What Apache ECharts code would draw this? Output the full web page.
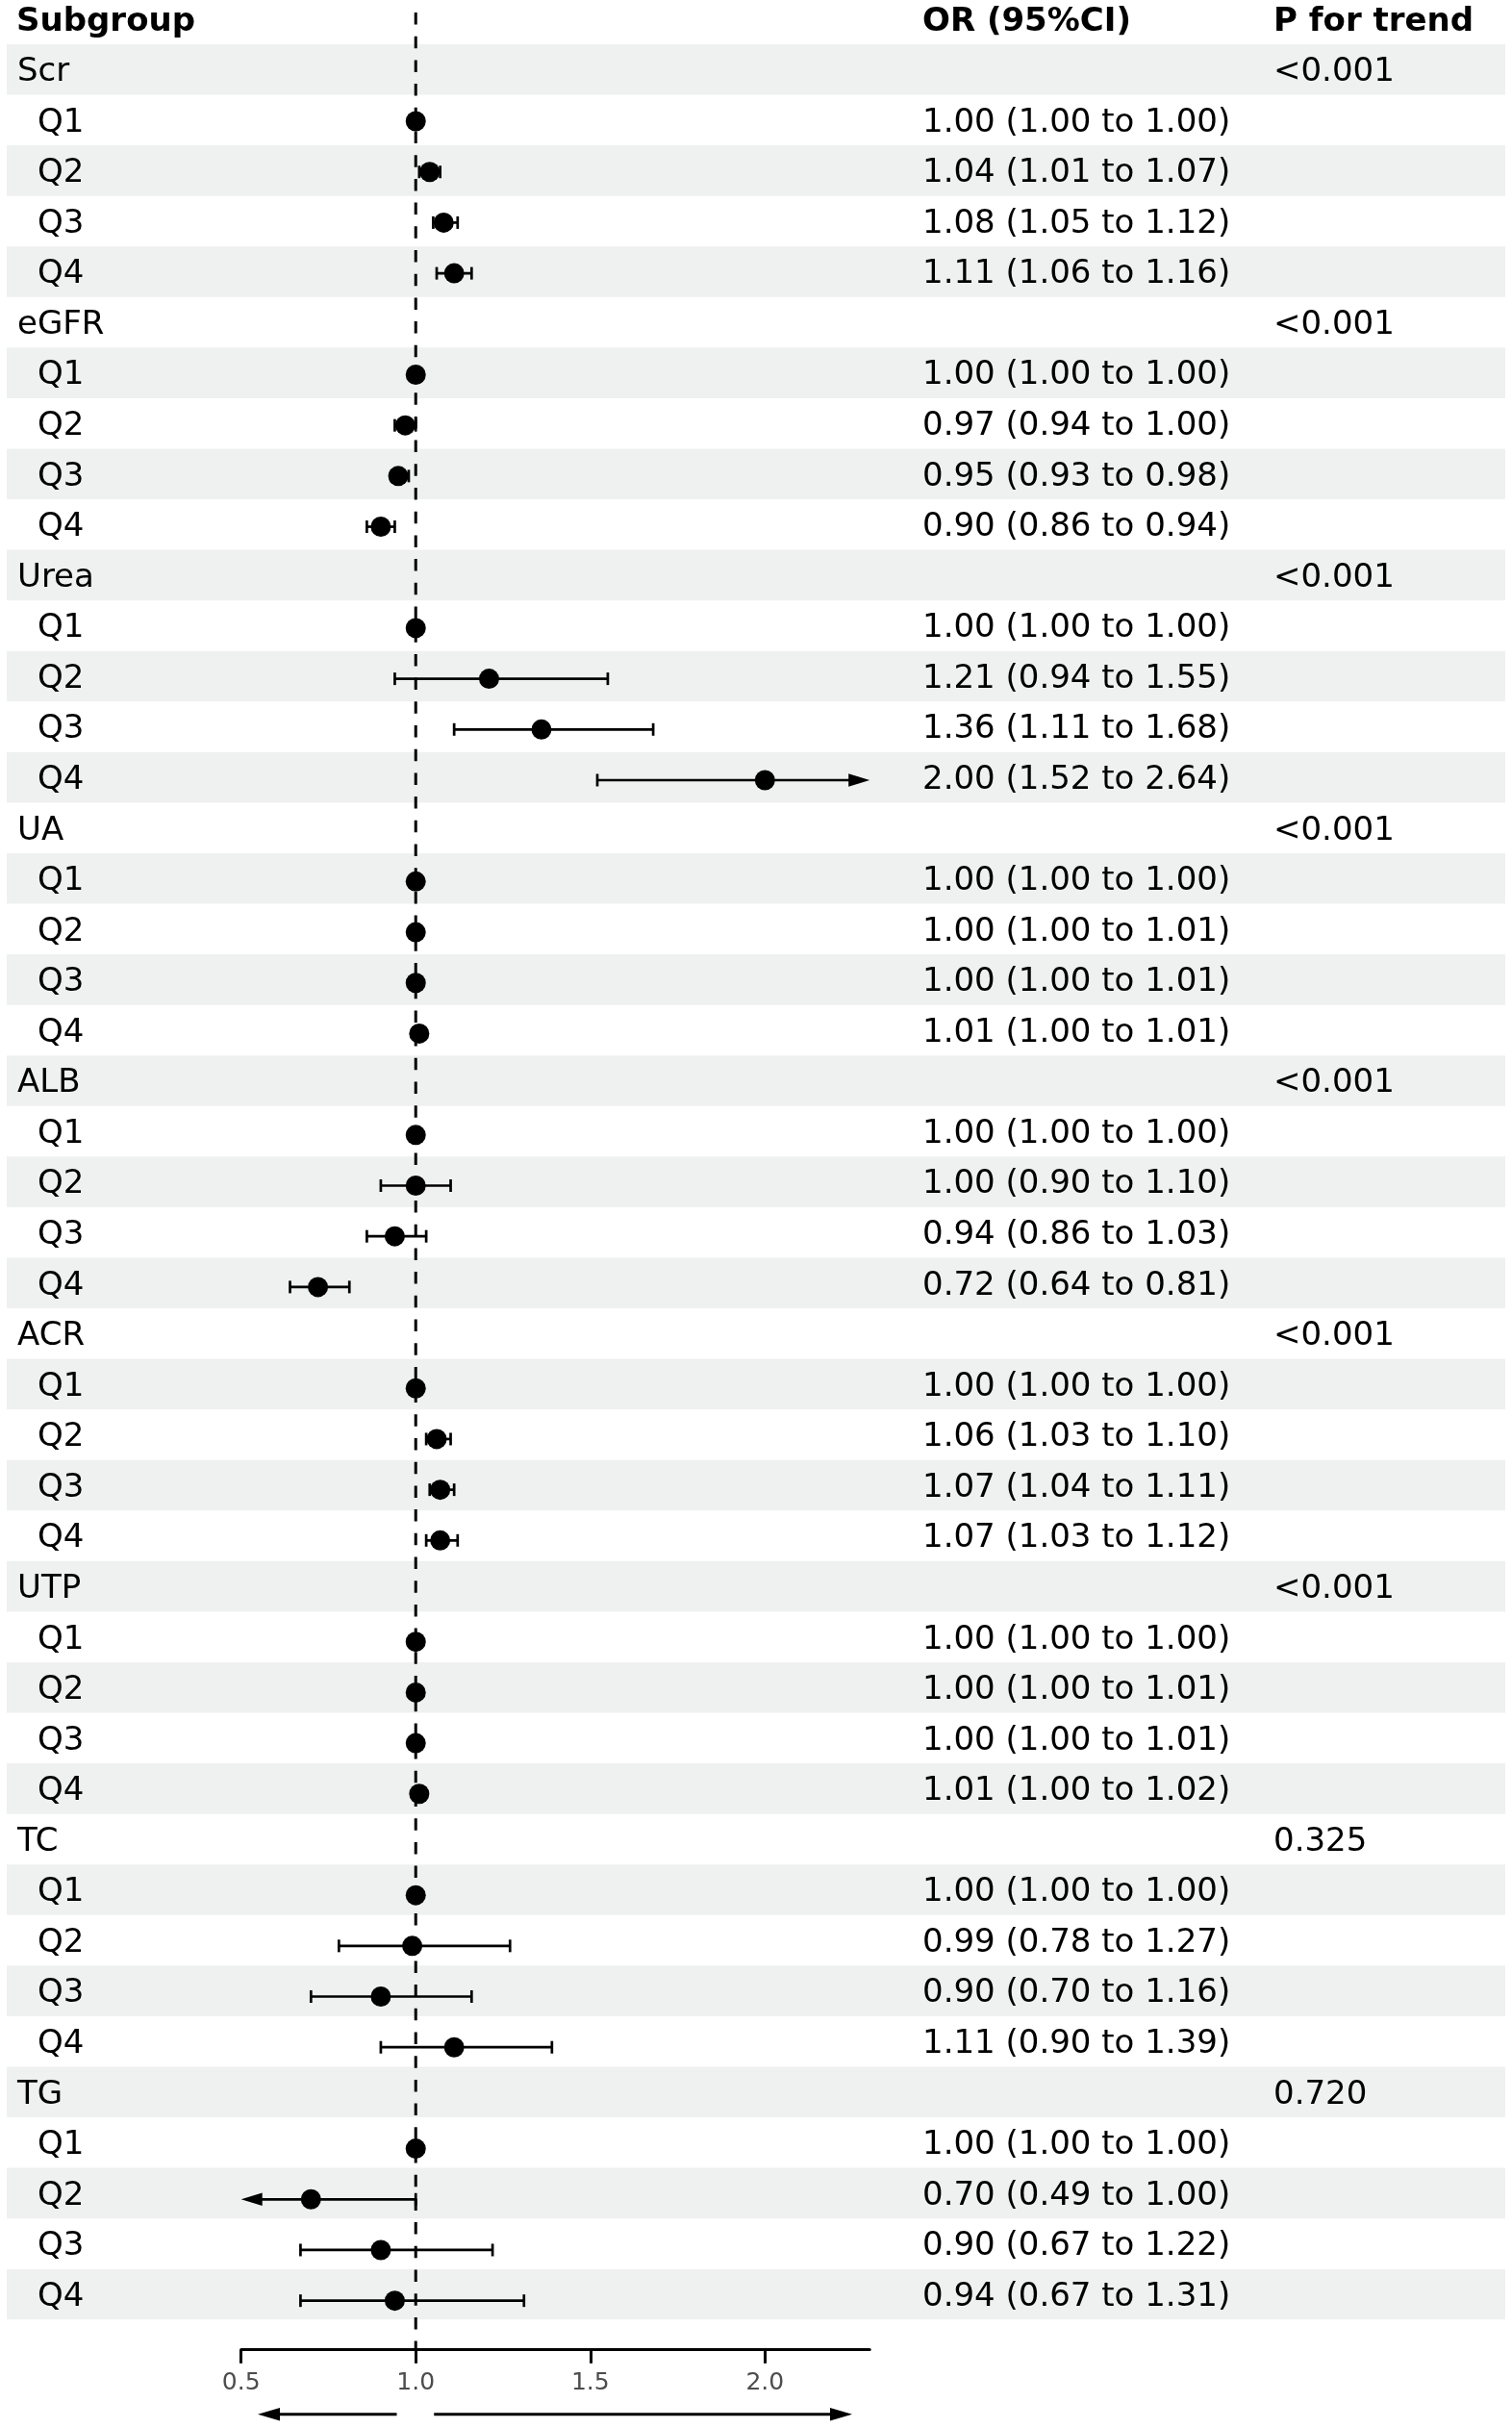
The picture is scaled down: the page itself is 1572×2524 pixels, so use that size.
<!DOCTYPE html>
<html>
<head>
<meta charset="utf-8" />
<title>Forest plot</title>
<script type="text/javascript" src="https://cdn.jsdelivr.net/npm/echarts@6.0.0/dist/echarts.min.js"></script>
<style>
  html, body { margin: 0; padding: 0; background: #fff; }
  #main { width: 1572px; height: 2524px; }
</style>
</head>
<body>
<div id="main"></div>
<script>
// data
var groups = ['Scr', 'eGFR', 'Urea', 'UA', 'ALB', 'ACR', 'UTP', 'TC', 'TG'];
var quartiles = ['Q1', 'Q2', 'Q3', 'Q4'];
var pTrend = ['<0.001', '<0.001', '<0.001', '<0.001', '<0.001', '<0.001', '<0.001', '0.325', '0.720'];
var orEst = [1.00, 1.04, 1.08, 1.11,  1.00, 0.97, 0.95, 0.90,  1.00, 1.21, 1.36, 2.00,
             1.00, 1.00, 1.00, 1.01,  1.00, 1.00, 0.94, 0.72,  1.00, 1.06, 1.07, 1.07,
             1.00, 1.00, 1.00, 1.01,  1.00, 0.99, 0.90, 1.11,  1.00, 0.70, 0.90, 0.94];
var orLow = [1.00, 1.01, 1.05, 1.06,  1.00, 0.94, 0.93, 0.86,  1.00, 0.94, 1.11, 1.52,
             1.00, 1.00, 1.00, 1.00,  1.00, 0.90, 0.86, 0.64,  1.00, 1.03, 1.04, 1.03,
             1.00, 1.00, 1.00, 1.00,  1.00, 0.78, 0.70, 0.90,  1.00, 0.49, 0.67, 0.67];
var orHigh = [1.00, 1.07, 1.12, 1.16,  1.00, 1.00, 0.98, 0.94,  1.00, 1.55, 1.68, 2.64,
              1.00, 1.01, 1.01, 1.01,  1.00, 1.10, 1.03, 0.81,  1.00, 1.10, 1.11, 1.12,
              1.00, 1.01, 1.01, 1.02,  1.00, 1.27, 1.16, 1.39,  1.00, 1.00, 1.22, 1.31];
var xTicks = [0.5, 1.0, 1.5, 2.0];
var xMin = 0.5, xMax = 2.3, refValue = 1;

var FONT = '"DejaVu Sans", "Liberation Sans", sans-serif';

// one row per group header and per quartile
var rows = [];
groups.forEach(function (g, gi) {
  rows.push({ label: g, sub: false, p: pTrend[gi] });
  quartiles.forEach(function (q, qi) {
    rows.push({ label: q, sub: true, k: gi * 4 + qi });
  });
});
var rowIds = rows.map(function (r, i) { return i; });

function f2(v) { return v.toFixed(2); }

var estRows = [], ciRows = [];
rows.forEach(function (r, i) {
  if (!r.sub) return;
  estRows.push([orEst[r.k], i]);
  ciRows.push([i, orLow[r.k], orHigh[r.k]]);
});

var chart = echarts.init(document.getElementById('main'), null, { renderer: 'canvas' });

chart.setOption({
  backgroundColor: '#fff',
  animation: false,
  grid: [
    { left: 250.7, right: 667.8, top: 46, bottom: 112.7 },   // bands + text
    { left: 250.7, right: 667.8, top: 47, bottom: 106 }      // points + CI
  ],
  xAxis: [{
    gridIndex: 0, type: 'value', min: xMin, max: xMax, interval: 0.5,
    offset: 31.4,
    splitLine: { show: false },
    axisLine: { show: true, lineStyle: { color: '#000', width: 3 } },
    axisTick: { show: true, length: 14, customValues: xTicks, lineStyle: { color: '#000', width: 3 } },
    axisLabel: {
      customValues: xTicks, margin: 22, fontSize: 25, color: '#4d4d4d', fontFamily: FONT,
      formatter: function (v) { return v.toFixed(1); }
    }
  }, {
    gridIndex: 1, type: 'value', min: xMin, max: xMax, show: false, splitLine: { show: false }
  }],
  yAxis: [
    { gridIndex: 0, type: 'category', inverse: true, data: rowIds, show: false },
    { gridIndex: 1, type: 'category', inverse: true, data: rowIds, show: false }
  ],
  graphic: [
    { type: 'text', x: 17, y: 23, style: { text: 'Subgroup', font: 'bold 34px ' + FONT, fill: '#000', verticalAlign: 'middle' } },
    { type: 'text', x: 959, y: 23, style: { text: 'OR (95%CI)', font: 'bold 34px ' + FONT, fill: '#000', verticalAlign: 'middle' } },
    { type: 'text', x: 1324, y: 23, style: { text: 'P for trend', font: 'bold 34px ' + FONT, fill: '#000', verticalAlign: 'middle' } }
  ],
  series: [
    // zebra bands
    {
      type: 'custom', xAxisIndex: 0, yAxisIndex: 0, z: 1, silent: true,
      encode: { x: 0, y: 1 },
      data: rowIds.filter(function (i) { return i % 2 === 0; }).map(function (i) { return [xMin, i]; }),
      renderItem: function (params, api) {
        var c = api.coord([xMin, api.value(1)]);
        var h = api.size([0, 1])[1];
        return { type: 'rect', shape: { x: 7, y: c[1] - h / 2, width: api.getWidth() - 14, height: h }, style: { fill: '#eff1f0' } };
      }
    },
    // table text
    {
      type: 'custom', xAxisIndex: 0, yAxisIndex: 0, z: 2, silent: true,
      encode: { x: 0, y: 1 },
      data: rowIds.map(function (i) { return [xMin, i]; }),
      renderItem: function (params, api) {
        var i = api.value(1);
        var r = rows[i];
        var y = api.coord([xMin, i])[1] + 3;
        var kids = [{ type: 'text', x: r.sub ? 39 : 18, y: y, style: { text: r.label, font: '34px ' + FONT, fill: '#000', verticalAlign: 'middle' } }];
        if (r.sub) {
          kids.push({ type: 'text', x: 959, y: y, style: {
            text: f2(orEst[r.k]) + ' (' + f2(orLow[r.k]) + ' to ' + f2(orHigh[r.k]) + ')',
            font: '34px ' + FONT, fill: '#000', verticalAlign: 'middle' } });
        } else {
          kids.push({ type: 'text', x: 1324, y: y, style: { text: r.p, font: '34px ' + FONT, fill: '#000', verticalAlign: 'middle' } });
        }
        return { type: 'group', children: kids };
      }
    },
    // reference line at OR = 1 and the direction arrows under the axis
    {
      type: 'custom', xAxisIndex: 0, yAxisIndex: 0, z: 3, silent: true,
      encode: { x: 0, y: 1 },
      data: [[refValue, 0]],
      renderItem: function (params, api) {
        var cs = params.coordSys;
        var x = api.coord([refValue, 0])[0];
        var axisY = cs.y + cs.height + 31.4;
        var ay = axisY + 67;
        var left = cs.x + 17.3, right = cs.x + cs.width - 18.2;
        var st = { stroke: '#000', lineWidth: 3 };
        return { type: 'group', children: [
          { type: 'line', shape: { x1: x, y1: 13, x2: x, y2: axisY }, style: { stroke: '#000', lineWidth: 3, lineDash: [12.5, 12.2] } },
          { type: 'line', shape: { x1: x - 19.7, y1: ay, x2: left + 18, y2: ay }, style: st },
          { type: 'polygon', shape: { points: [[left, ay], [left + 23, ay - 6.7], [left + 23, ay + 6.7]] }, style: { fill: '#000' } },
          { type: 'line', shape: { x1: x + 19, y1: ay, x2: right - 18, y2: ay }, style: st },
          { type: 'polygon', shape: { points: [[right, ay], [right - 23, ay - 6.7], [right - 23, ay + 6.7]] }, style: { fill: '#000' } }
        ] };
      }
    },
    // confidence intervals
    {
      type: 'custom', xAxisIndex: 1, yAxisIndex: 1, z: 4, silent: true,
      encode: { x: [1, 2], y: 0 },
      data: ciRows,
      renderItem: function (params, api) {
        var row = api.value(0), lo = api.value(1), hi = api.value(2);
        var y = api.coord([xMin, row])[1];
        var x1 = api.coord([Math.max(lo, xMin), row])[0];
        var x2 = api.coord([Math.min(hi, xMax), row])[0];
        var st = { stroke: '#000', lineWidth: 2.7 };
        var kids = [];
        var a = x1, b = x2;
        if (lo < xMin) {
          kids.push({ type: 'polygon', shape: { points: [[x1, y], [x1 + 22, y - 6.7], [x1 + 22, y + 6.7]] }, style: { fill: '#000' } });
          a = x1 + 18;
        } else {
          kids.push({ type: 'line', shape: { x1: x1, y1: y - 6.5, x2: x1, y2: y + 6.5 }, style: st });
        }
        if (hi > xMax) {
          kids.push({ type: 'polygon', shape: { points: [[x2, y], [x2 - 22, y - 6.7], [x2 - 22, y + 6.7]] }, style: { fill: '#000' } });
          b = x2 - 18;
        } else {
          kids.push({ type: 'line', shape: { x1: x2, y1: y - 6.5, x2: x2, y2: y + 6.5 }, style: st });
        }
        kids.push({ type: 'line', shape: { x1: a, y1: y, x2: b, y2: y }, style: st });
        return { type: 'group', children: kids };
      }
    },
    // point estimates
    {
      type: 'scatter', xAxisIndex: 1, yAxisIndex: 1, z: 5, silent: true,
      symbol: 'circle', symbolSize: 21,
      itemStyle: { color: '#000', opacity: 1 },
      data: estRows
    }
  ]
});
</script>
</body>
</html>
